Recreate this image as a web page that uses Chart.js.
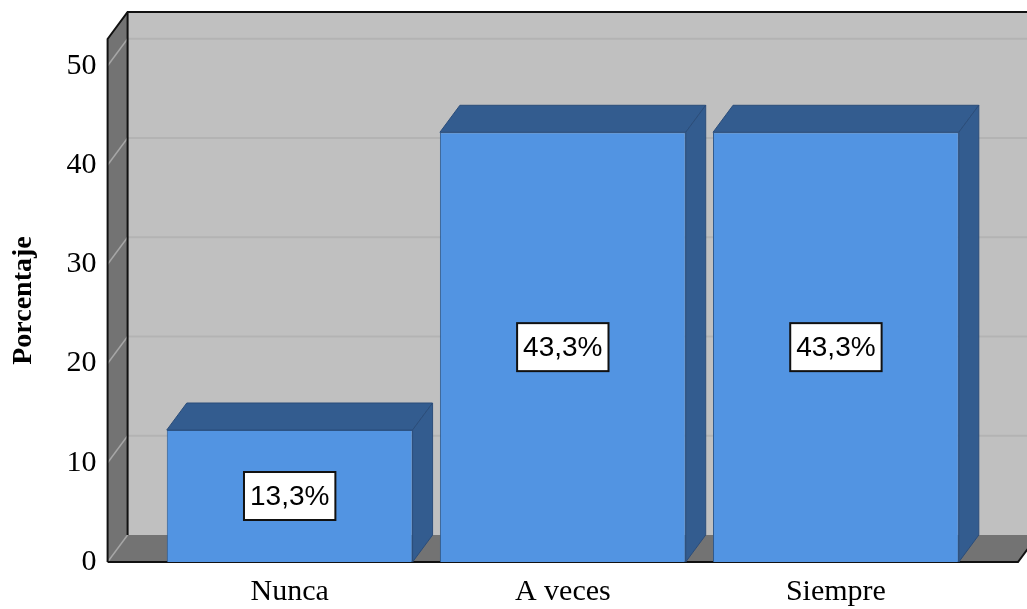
<!DOCTYPE html>
<html>
<head>
<title>Porcentaje</title>
<script src="https://cdn.jsdelivr.net/npm/chart.js"></script>
<style>
  body { margin: 0; background: #fff; }
  #wrap { width: 1027px; height: 609px; }
</style>
</head>
<body>
<div id="wrap"><canvas id="chart"></canvas></div>
<script>
const categories = ['Nunca', 'A veces', 'Siempre'];
const percentages = [13.3, 43.3, 43.3];
const valueLabels = ['13,3%', '43,3%', '43,3%'];
const yTicks = [0, 10, 20, 30, 40, 50];

// depth of the 3D box, in pixels
const DX = 20, DY = 27;

function poly(ctx, pts, fill, stroke, lw) {
  ctx.beginPath();
  ctx.moveTo(pts[0][0], pts[0][1]);
  for (let i = 1; i < pts.length; i++) ctx.lineTo(pts[i][0], pts[i][1]);
  ctx.closePath();
  if (fill) { ctx.fillStyle = fill; ctx.fill(); }
  if (stroke) { ctx.strokeStyle = stroke; ctx.lineWidth = lw || 1; ctx.stroke(); }
}

function line(ctx, x1, y1, x2, y2, color, lw) {
  ctx.beginPath();
  ctx.moveTo(x1, y1);
  ctx.lineTo(x2, y2);
  ctx.strokeStyle = color;
  ctx.lineWidth = lw;
  ctx.stroke();
}

const box3d = {
  id: 'box3d',
  beforeDatasetsDraw(chart) {
    const { ctx, chartArea: a, scales: { y } } = chart;
    const L = a.left, R = a.right, T = a.top, B = a.bottom;
    ctx.save();
    // back wall
    ctx.fillStyle = '#c0c0c0';
    ctx.fillRect(L + DX, T - DY, R - L + 30, B - T);
    yTicks.slice(1).forEach(v => {
      const py = y.getPixelForValue(v) - DY;
      line(ctx, L + DX, py, R + DX + 30, py, '#b3b3b3', 2);
    });
    // left wall and floor
    poly(ctx, [[L, T], [L + DX, T - DY], [L + DX, B - DY], [L, B]], '#737373');
    poly(ctx, [[L, B], [L + DX, B - DY], [R + DX, B - DY], [R, B]], '#737373');
    yTicks.forEach(v => {
      const py = y.getPixelForValue(v);
      line(ctx, L, py, L + DX, py - DY, '#a6a6a6', 1.5);
    });
    // outlines
    line(ctx, L + DX, T - DY, L + DX, B - DY, '#111', 2);
    ctx.beginPath();
    ctx.moveTo(L, B);
    ctx.lineTo(L, T);
    ctx.lineTo(L + DX, T - DY);
    ctx.lineTo(R + DX + 30, T - DY);
    ctx.strokeStyle = '#111';
    ctx.lineWidth = 2;
    ctx.stroke();
    ctx.beginPath();
    ctx.moveTo(L, B);
    ctx.lineTo(R, B);
    ctx.lineTo(R + DX, B - DY);
    ctx.stroke();
    ctx.restore();
  },
  afterDatasetsDraw(chart) {
    const { ctx } = chart;
    const meta = chart.getDatasetMeta(0);
    ctx.save();
    meta.data.forEach((bar, i) => {
      const p = bar.getProps(['x', 'y', 'base', 'width'], true);
      const x0 = p.x - p.width / 2, x1 = p.x + p.width / 2;
      // top face
      poly(ctx, [[x0, p.y], [x0 + DX, p.y - DY], [x1 + DX, p.y - DY], [x1, p.y]], '#335c8f', '#2b4d7a', 1);
      // side face
      poly(ctx, [[x1, p.y], [x1 + DX, p.y - DY], [x1 + DX, p.base - DY], [x1, p.base]], '#335c8f', '#2b4d7a', 1);
      // value label
      ctx.font = '28px "Liberation Sans", Arial, sans-serif';
      const tw = ctx.measureText(valueLabels[i]).width;
      const cy = (p.y + p.base) / 2;
      const bw = tw + 12, bh = 48;
      ctx.fillStyle = '#fff';
      ctx.fillRect(p.x - bw / 2, cy - bh / 2, bw, bh);
      ctx.strokeStyle = '#111';
      ctx.lineWidth = 2;
      ctx.strokeRect(p.x - bw / 2, cy - bh / 2, bw, bh);
      ctx.fillStyle = '#000';
      ctx.textAlign = 'center';
      ctx.textBaseline = 'middle';
      ctx.fillText(valueLabels[i], p.x, cy + 1);
    });
    ctx.restore();
  }
};

const ctx = document.getElementById('chart').getContext('2d');
new Chart(ctx, {
  type: 'bar',
  data: {
    datasets: [{
      data: percentages.map((v, i) => ({ x: i + 1, y: v })),
      backgroundColor: '#5294e2',
      borderColor: '#2f5a8e',
      borderWidth: 1,
      categoryPercentage: 1,
      barPercentage: 0.9
    }]
  },
  plugins: [box3d],
  options: {
    animation: false,
    responsive: true,
    maintainAspectRatio: false,
    layout: { padding: { left: 7, right: 9, top: 39, bottom: -13 } },
    plugins: { legend: { display: false }, tooltip: { enabled: false } },
    scales: {
      x: {
        type: 'linear',
        offset: false,
        min: 1 / 3,
        max: 11 / 3,
        grid: { display: false, drawTicks: false, offset: false },
        border: { display: false },
        afterBuildTicks: axis => { axis.ticks = categories.map((c, i) => ({ value: i + 1 })); },
        ticks: {
          autoSkip: false,
          maxRotation: 0,
          padding: 12,
          color: '#000',
          font: { family: '"Liberation Serif", "Times New Roman", serif', size: 30 },
          callback: v => categories[v - 1]
        }
      },
      y: {
        min: 0,
        max: 52.7,
        grid: { display: false, drawTicks: false },
        border: { display: false },
        afterBuildTicks: axis => { axis.ticks = yTicks.map(v => ({ value: v })); },
        ticks: {
          padding: 11,
          color: '#000',
          font: { family: '"Liberation Serif", "Times New Roman", serif', size: 30 }
        },
        title: {
          display: true,
          text: 'Porcentaje',
          color: '#000',
          padding: { top: 0, bottom: 15 },
          font: { family: '"Liberation Serif", "Times New Roman", serif', size: 28, weight: 'bold' }
        }
      }
    }
  }
});
</script>
</body>
</html>
